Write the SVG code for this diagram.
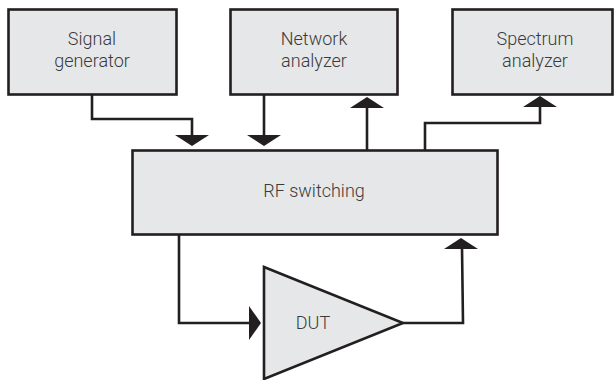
<svg xmlns="http://www.w3.org/2000/svg" width="615" height="380" viewBox="0 0 615 380">
<style>
.box{fill:#e6e7e8;stroke:#231f20;stroke-width:2.6}
.ln{fill:none;stroke:#231f20;stroke-width:2.6}
.ah{fill:#231f20;stroke:none}
text{font-family:Roboto,"Liberation Sans",sans-serif;font-weight:300;font-size:18px;fill:#3a3a3a;text-anchor:middle}
</style>
<rect width="615" height="380" fill="#fff"/>
<g id="signal-generator">
<rect class="box" x="8.5" y="9.5" width="168" height="85"/>
<text x="92" y="45">Signal</text>
<text x="92" y="67">generator</text>
</g>
<g id="network-analyzer">
<rect class="box" x="230.5" y="9.5" width="167" height="85"/>
<text x="314" y="45">Network</text>
<text x="314" y="67">analyzer</text>
</g>
<g id="spectrum-analyzer">
<rect class="box" x="452.5" y="9.5" width="160" height="85"/>
<text x="535" y="45">Spectrum</text>
<text x="535" y="67">analyzer</text>
</g>
<g id="rf-switching">
<rect class="box" x="132.5" y="150.5" width="365" height="84"/>
<text x="314" y="197">RF switching</text>
</g>
<g id="dut">
<polygon class="box" points="264,267 403,323 264,379"/>
<text x="313" y="329">DUT</text>
</g>
<g id="connectors">
<polyline class="ln" points="92,94 92,119 192,119 192,136"/>
<polygon class="ah" points="175,135 209,135 192,146"/>
<line class="ln" x1="264" y1="94" x2="264" y2="136"/>
<polygon class="ah" points="247,135 281,135 264,146"/>
<line class="ln" x1="367" y1="150" x2="367" y2="106"/>
<polygon class="ah" points="350,108 384,108 367,97"/>
<polyline class="ln" points="425,150 425,123 540,123 540,105"/>
<polygon class="ah" points="523,107 557,107 540,96"/>
<polyline class="ln" points="179,234 179,323 250,323"/>
<polygon class="ah" points="249,306 249,340 261,323"/>
<polyline class="ln" points="403,323 463,323 462,247"/>
<polygon class="ah" points="444,249 478,249 461,238"/>
</g>
</svg>
